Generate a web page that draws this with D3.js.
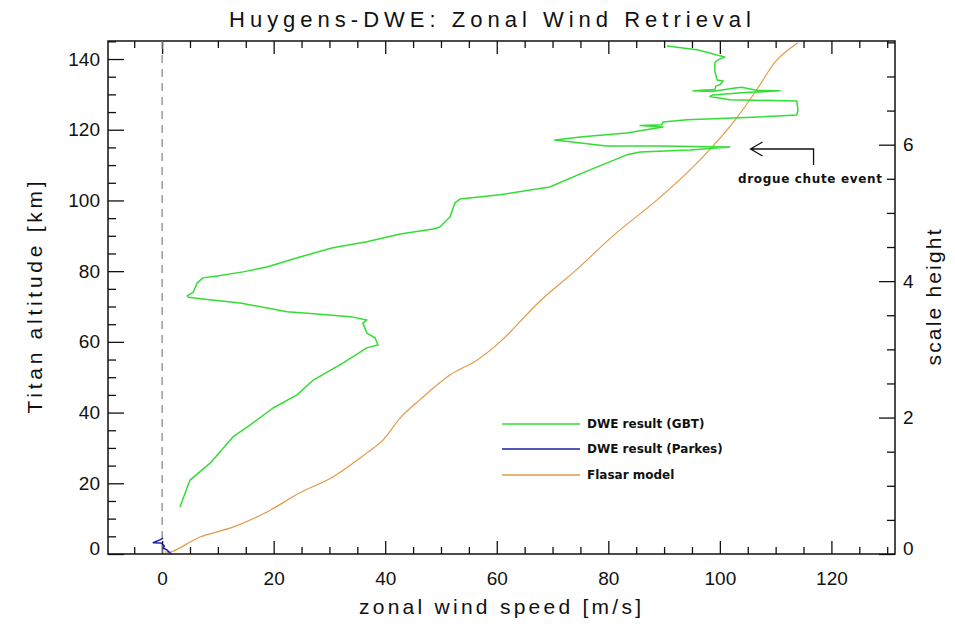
<!DOCTYPE html>
<html>
<head>
<meta charset="utf-8">
<script src="https://cdn.jsdelivr.net/npm/d3@7"></script>
<style>
  html, body { margin: 0; padding: 0; background: #fff; }
  svg { display: block; }
  text { font-family: "Liberation Sans", "DejaVu Sans", sans-serif; fill: #111; }
</style>
</head>
<body>
<svg id="chart" width="955" height="626"></svg>
<script>
// ---------------- data (wind speed [m/s], altitude [km]) ----------------
const gbtSpeed = [90.5, 95.9, 98.2, 100.0, 100.9, 99.6, 99.1, 99.1, 99.5, 100.6, 100.0, 99.3, 99.1, 95.2, 98.6, 102.7, 103.9, 106.8, 110.8, 104.5, 98.7, 98.2, 101.8, 113.8, 114.0, 113.8, 105.9, 94.1, 89.8, 89.6, 85.7, 89.8, 83.3, 75.4, 70.4, 79.7, 89.2, 101.8, 94.6, 85.7, 83.3, 75.4, 69.5, 68.3, 60.6, 53.4, 52.5, 51.6, 49.8, 48.6, 42.7, 36.7, 30.6, 24.7, 18.8, 14.5, 9.9, 7.3, 6.3, 5.6, 4.5, 4.7, 7.3, 14.0, 22.4, 27.8, 34.2, 36.7, 36.0, 36.7, 38.2, 38.7, 36.7, 32.4, 27.1, 24.2, 19.9, 15.8, 12.7, 8.6, 5.0, 3.2];
const gbtAlt = [143.7, 142.6, 141.7, 140.9, 140.6, 139.7, 138.9, 136.6, 134.1, 133.8, 132.7, 132.4, 131.4, 131.0, 130.8, 131.8, 132.0, 131.1, 131.0, 130.5, 129.8, 129.4, 128.5, 128.1, 125.6, 124.2, 123.5, 122.8, 122.2, 121.4, 121.2, 120.8, 119.1, 118.0, 117.1, 115.4, 115.4, 115.1, 114.3, 113.7, 112.9, 107.8, 103.8, 103.5, 101.6, 100.4, 99.3, 95.3, 92.5, 91.9, 90.5, 88.3, 86.6, 84.0, 81.2, 79.8, 78.6, 78.1, 76.7, 74.1, 73.0, 72.6, 72.1, 71.0, 68.5, 67.9, 67.0, 66.2, 65.3, 62.5, 61.1, 59.1, 58.3, 54.0, 49.2, 45.0, 41.3, 36.5, 33.1, 25.7, 20.9, 13.3];

const parkesSpeed = [0.2, -0.4, -1.6, -0.2, 0.4, 0.2, 0.9, 1.4, 1.8];
const parkesAlt   = [4.5, 4.0, 3.2, 3.1, 2.3, 1.7, 1.1, 0.3, 0.0];

const flasarSpeed = [0.5, 1.8, 6.8, 12.7, 18.8, 24.7, 30.6, 36.7, 39.6, 42.7, 46.2, 51.6, 56.5, 60.6, 68.0, 74.0, 81.0, 88.7, 94.1, 98.6, 103.0, 106.6, 110.2, 114.0];
const flasarAlt   = [0.6, 0.7, 4.8, 7.6, 11.9, 17.3, 21.8, 28.6, 32.2, 38.5, 43.6, 50.6, 54.9, 60.0, 71.9, 80.0, 90.2, 100.1, 107.8, 115.1, 123.3, 131.3, 139.7, 144.6];

const xMajorTicks = [0, 20, 40, 60, 80, 100, 120];
const yMajorTicks = [0, 20, 40, 60, 80, 100, 120, 140];
const scaleHeightTicks = [0, 2, 4, 6];

const seriesNames = ["DWE result (GBT)", "DWE result (Parkes)", "Flasar model"];
const seriesColors = ["#33dd33", "#1c1ca8", "#e39a45"];

const titleText = "Huygens-DWE: Zonal Wind Retrieval";
const xTitle = "zonal wind speed [m/s]";
const yTitle = "Titan altitude [km]";
const y2Title = "scale height";
const annotationText = "drogue chute event";
const annotationAlt = 115.4;

// ---------------- layout ----------------
const L = 108, R = 895, T = 41, B = 554;
const svg = d3.select("#chart");

const x = d3.scaleLinear().domain([-9.7, 131.4]).range([L, R]);
const y = d3.scaleLinear().domain([0, 145.1]).range([B, T]);
const y2 = d3.scaleLinear().domain([0, 7.52]).range([B, T]);

const d3range = (a, b, s) => d3.range(a, b + 1e-9, s);

// minor ticks
const xMinor = d3range(-5, 130, 5).filter(v => v % 20 !== 0);
const yMinor = d3range(5, 145, 5).filter(v => v % 20 !== 0);
const y2Minor = d3range(0.5, 7.5, 0.5).filter(v => v % 2 !== 0);

function styleAxis(g) {
  g.select(".domain").remove();
  g.selectAll("line").attr("stroke", "#111").attr("stroke-width", 1.3);
  g.selectAll("text").attr("font-size", 19).attr("fill", "#111")
    .style("font-family", '"Liberation Sans", sans-serif');
}

// bottom axis
svg.append("g").attr("transform", `translate(0,${B})`)
  .call(d3.axisBottom(x).tickValues(xMajorTicks).tickSize(-13).tickPadding(18).tickFormat(d3.format("d")))
  .call(styleAxis);
svg.append("g").attr("transform", `translate(0,${B})`)
  .call(d3.axisBottom(x).tickValues(xMinor).tickSize(-7).tickFormat(""))
  .call(styleAxis);
// top axis (no labels)
svg.append("g").attr("transform", `translate(0,${T})`)
  .call(d3.axisTop(x).tickValues(xMajorTicks).tickSize(-13).tickFormat(""))
  .call(styleAxis);
svg.append("g").attr("transform", `translate(0,${T})`)
  .call(d3.axisTop(x).tickValues(xMinor).tickSize(-7).tickFormat(""))
  .call(styleAxis);
// left axis
const leftAx = svg.append("g").attr("transform", `translate(${L},0)`)
  .call(d3.axisLeft(y).tickValues(yMajorTicks).tickSize(-16).tickPadding(8).tickFormat(d3.format("d")))
  .call(styleAxis);
svg.append("g").attr("transform", `translate(${L},0)`)
  .call(d3.axisLeft(y).tickValues(yMinor).tickSize(-8).tickFormat(""))
  .call(styleAxis);
// right axis (scale height)
const rightAx = svg.append("g").attr("transform", `translate(${R},0)`)
  .call(d3.axisRight(y2).tickValues(scaleHeightTicks).tickSize(-16).tickPadding(8).tickFormat(d3.format("d")))
  .call(styleAxis);
svg.append("g").attr("transform", `translate(${R},0)`)
  .call(d3.axisRight(y2).tickValues(y2Minor).tickSize(-8).tickFormat(""))
  .call(styleAxis);

// lowest labels sit slightly raised, as in the original
leftAx.selectAll(".tick").filter(d => d === 0).select("text").attr("dy", "0.05em");
rightAx.selectAll(".tick").filter(d => d === 0).select("text").attr("dy", "0.05em");

// frame
svg.append("rect").attr("x", L).attr("y", T).attr("width", R - L).attr("height", B - T)
  .attr("fill", "none").attr("stroke", "#111").attr("stroke-width", 1.5);

// zero line
svg.append("line").attr("x1", x(0)).attr("x2", x(0)).attr("y1", y(145.1)).attr("y2", y(0))
  .attr("stroke", "#888").attr("stroke-width", 1.3).attr("stroke-dasharray", "8,6");

// series
const line = d3.line().x(d => x(d[0])).y(d => y(d[1]));
const smoothLine = d3.line().x(d => x(d[0])).y(d => y(d[1])).curve(d3.curveCatmullRom);
const series = [
  d3.zip(gbtSpeed, gbtAlt),
  d3.zip(parkesSpeed, parkesAlt),
  d3.zip(flasarSpeed, flasarAlt)
];
const widths = [1.5, 1.5, 1.2];
const drawOrder = [2, 0, 1];
drawOrder.forEach(i => {
  svg.append("path").datum(series[i]).attr("d", i === 2 ? smoothLine : line)
    .attr("fill", "none").attr("stroke", seriesColors[i]).attr("stroke-width", widths[i])
    .attr("stroke-linejoin", "round");
});

// legend
const legY = [424, 449, 475];
seriesNames.forEach((n, i) => {
  svg.append("line").attr("x1", 502).attr("x2", 580).attr("y1", legY[i]).attr("y2", legY[i])
    .attr("stroke", seriesColors[i]).attr("stroke-width", 1.5);
  svg.append("text").attr("x", 587).attr("y", legY[i] + 4).text(n)
    .attr("font-size", 12).style("font-weight", "bold").style("font-family", '"DejaVu Sans", sans-serif');
});

// annotation
const ay = y(annotationAlt) + 3;
const ax0 = x(105.5), ax1 = x(116.8);
svg.append("path")
  .attr("d", `M${ax0 + 12},${ay - 7} L${ax0},${ay} L${ax0 + 12},${ay + 7} M${ax0},${ay} L${ax1},${ay} L${ax1},${ay + 16}`)
  .attr("fill", "none").attr("stroke", "#111").attr("stroke-width", 1.3);
svg.append("text").attr("x", 810).attr("y", ay + 34).attr("text-anchor", "middle")
  .attr("textLength", 144).attr("lengthAdjust", "spacing")
  .text(annotationText).attr("font-size", 12).style("font-weight", "bold")
  .style("font-family", '"DejaVu Sans", sans-serif');

// titles
svg.append("text").attr("x", 490).attr("y", 27).attr("text-anchor", "middle")
  .attr("font-size", 22).attr("textLength", 522).attr("lengthAdjust", "spacing").text(titleText);
svg.append("text").attr("x", 500).attr("y", 614).attr("text-anchor", "middle")
  .attr("font-size", 21).attr("textLength", 282).attr("lengthAdjust", "spacing").text(xTitle);
svg.append("text").attr("transform", `translate(42,${(T + B) / 2}) rotate(-90)`).attr("text-anchor", "middle")
  .attr("font-size", 21).attr("textLength", 232).attr("lengthAdjust", "spacing").text(yTitle);
svg.append("text").attr("transform", `translate(941,${(T + B) / 2}) rotate(-90)`).attr("text-anchor", "middle")
  .attr("font-size", 21).attr("textLength", 136).attr("lengthAdjust", "spacing").text(y2Title);
</script>
</body>
</html>
